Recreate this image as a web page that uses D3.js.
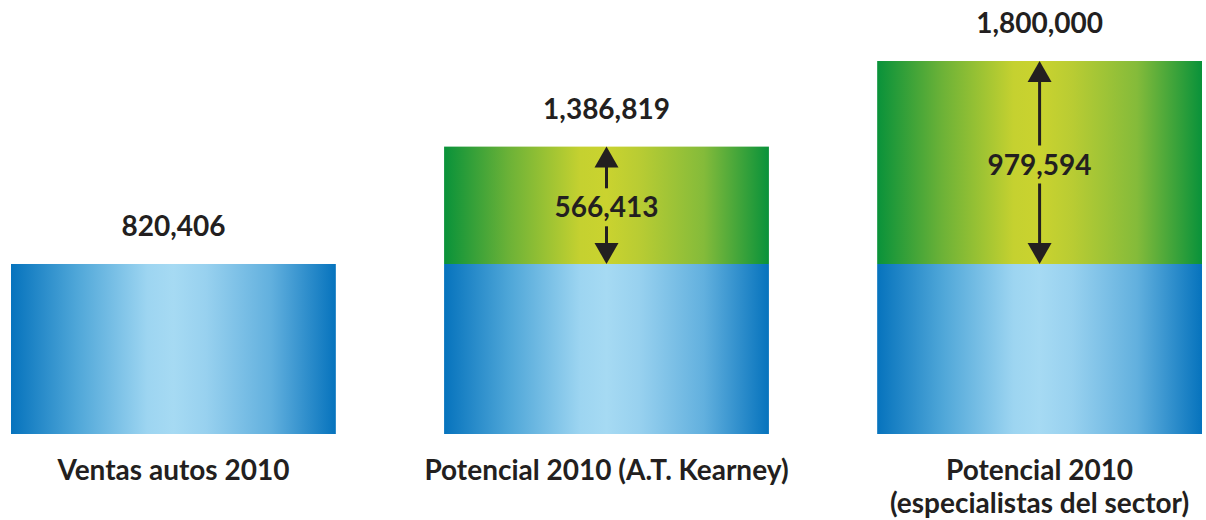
<!DOCTYPE html>
<html>
<head>
<meta charset="utf-8">
<script src="https://cdn.jsdelivr.net/npm/d3@7"></script>
<style>
  html, body { margin: 0; padding: 0; background: #fff; }
  svg { display: block; font-family: Lato, "Open Sans", sans-serif; font-weight: 700; }
</style>
</head>
<body>
<div id="chart"></div>
<script>
const categories = ["Ventas autos 2010", "Potencial 2010 (A.T. Kearney)", "Potencial 2010|(especialistas del sector)"];
const baseValues = [820406, 820406, 820406];
const totalValues = [820406, 1386819, 1800000];

const width = 1206;
const height = 520;
const textColor = "#231f20";
const fontSize = 28;

const svg = d3.select("#chart").append("svg")
  .attr("width", width)
  .attr("height", height);

const defs = svg.append("defs");

function addGradient(id, stops) {
  const grad = defs.append("linearGradient")
    .attr("id", id)
    .attr("x1", "0%").attr("x2", "100%")
    .attr("y1", "0%").attr("y2", "0%");
  grad.selectAll("stop")
    .data(stops)
    .join("stop")
    .attr("offset", (d) => d[0])
    .attr("stop-color", (d) => d[1]);
}

addGradient("blueGrad", [
  [0, "#0673bd"], [0.2, "#4ea6d8"], [0.42, "#9dd5f1"], [0.5, "#a6daf3"],
  [0.6, "#98d1ef"], [0.8, "#62b0de"], [1, "#0673bd"]
]);
addGradient("greenGrad", [
  [0, "#09923a"], [0.2, "#6cb237"], [0.42, "#c5d130"], [0.5, "#cad32f"],
  [0.6, "#b9cc33"], [0.8, "#84bb3a"], [1, "#09923a"]
]);

const x = d3.scaleBand()
  .domain(categories)
  .range([11, 1202])
  .paddingInner(0.25)
  .paddingOuter(0);

const y = d3.scaleLinear()
  .domain([0, 1800000])
  .range([434, 61]);

const data = categories.map((c, i) => ({ cat: c, base: baseValues[i], total: totalValues[i] }));

const bars = svg.append("g");

// blue base
bars.selectAll("rect.base")
  .data(data)
  .join("rect")
  .attr("class", "base")
  .attr("x", (d) => x(d.cat))
  .attr("y", (d) => y(d.base))
  .attr("width", x.bandwidth())
  .attr("height", (d) => y(0) - y(d.base))
  .attr("fill", "url(#blueGrad)");

// green potential on top
const extra = data.filter((d) => d.total > d.base);
bars.selectAll("rect.extra")
  .data(extra)
  .join("rect")
  .attr("class", "extra")
  .attr("x", (d) => x(d.cat))
  .attr("y", (d) => y(d.total))
  .attr("width", x.bandwidth())
  .attr("height", (d) => y(d.base) - y(d.total))
  .attr("fill", "url(#greenGrad)");

// value labels above bars
svg.append("g")
  .selectAll("text")
  .data(data)
  .join("text")
  .attr("x", (d) => x(d.cat) + x.bandwidth() / 2)
  .attr("y", (d) => y(d.total) - 28)
  .attr("text-anchor", "middle")
  .attr("font-size", fontSize)
  .attr("fill", textColor)
  .text((d) => d3.format(",")(d.total));

// difference arrows
const fmt = d3.format(",");
const headW = 12, headH = 21, gap = 19;
const arrows = svg.append("g").selectAll("g")
  .data(extra)
  .join("g");

arrows.each(function (d) {
  const g = d3.select(this);
  const cx = x(d.cat) + x.bandwidth() / 2;
  const top = y(d.total);
  const bot = y(d.base);
  const mid = (top + bot) / 2 + 2;

  g.append("line")
    .attr("x1", cx).attr("x2", cx)
    .attr("y1", top + headH - 2).attr("y2", mid - gap)
    .attr("stroke", textColor).attr("stroke-width", 3);
  g.append("line")
    .attr("x1", cx).attr("x2", cx)
    .attr("y1", mid + gap).attr("y2", bot - headH + 2)
    .attr("stroke", textColor).attr("stroke-width", 3);
  g.append("path")
    .attr("d", `M${cx},${top} L${cx + headW},${top + headH} L${cx - headW},${top + headH} Z`)
    .attr("fill", textColor);
  g.append("path")
    .attr("d", `M${cx},${bot} L${cx + headW},${bot - headH} L${cx - headW},${bot - headH} Z`)
    .attr("fill", textColor);
  g.append("text")
    .attr("x", cx)
    .attr("y", mid)
    .attr("dy", "0.36em")
    .attr("text-anchor", "middle")
    .attr("font-size", fontSize)
    .attr("fill", textColor)
    .text(fmt(d.total - d.base));
});

// category labels
svg.append("g")
  .selectAll("text")
  .data(categories)
  .join("text")
  .attr("x", (d) => x(d) + x.bandwidth() / 2)
  .attr("y", 480)
  .attr("text-anchor", "middle")
  .attr("font-size", fontSize)
  .attr("fill", textColor)
  .selectAll("tspan")
  .data((d) => d.split("|").map((t) => ({ t, parent: d })))
  .join("tspan")
  .attr("x", (d) => x(d.parent) + x.bandwidth() / 2)
  .attr("dy", (d, i) => (i === 0 ? 0 : 33))
  .text((d) => d.t);
</script>
</body>
</html>
